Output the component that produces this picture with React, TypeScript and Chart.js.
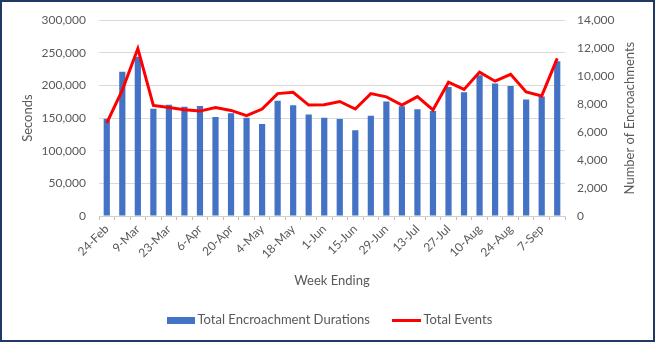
import React, { useEffect, useRef } from 'react';
import { Chart, registerables } from 'chart.js';
Chart.register(...registerables);

const weeks = ['24-Feb', '2-Mar', '9-Mar', '16-Mar', '23-Mar', '30-Mar', '6-Apr', '13-Apr', '20-Apr', '27-Apr', '4-May', '11-May', '18-May', '25-May', '1-Jun', '8-Jun', '15-Jun', '22-Jun', '29-Jun', '6-Jul', '13-Jul', '20-Jul', '27-Jul', '3-Aug', '10-Aug', '17-Aug', '24-Aug', '31-Aug', '7-Sep', '14-Sep'];

const durations = [149000, 221000, 244000, 164500, 170500, 167500, 168500, 151500, 157500, 150500, 141000, 176500, 169500, 155500, 150500, 148500, 131500, 153500, 175500, 168000, 163500, 161000, 197500, 189500, 215500, 203000, 199000, 178500, 183000, 237000];

const events = [6650, 9000, 11970, 7900, 7750, 7600, 7500, 7750, 7550, 7170, 7650, 8750, 8850, 7930, 7960, 8190, 7650, 8750, 8520, 7930, 8540, 7580, 9570, 9050, 10290, 9640, 10130, 8870, 8590, 11270];

const FONT = 'Lato, "Open Sans", sans-serif';
const TXT = '#595959';
const BLUE = '#4472C4';
const RED = '#FF0000';
const RIGHT_TITLE = 'Number of Encroachments';

function swatch(w: number, h: number, color: string) {
  const c = document.createElement('canvas');
  c.width = w;
  c.height = h;
  const g = c.getContext('2d')!;
  g.fillStyle = color;
  g.fillRect(0, 0, w, h);
  return c;
}

const adjustPlugin = {
  id: 'adjust',
  afterLayout(chart: any) {
    const lg = chart.legend;
    if (!lg) return;
    const pad = lg.options.labels.padding;
    lg.left = 171 - pad;
    const h = lg.height;
    lg.top = 320 - pad - 6.5;
    lg.bottom = lg.top + h;
  },
  afterDraw(chart: any) {
    const { ctx, chartArea } = chart;
    ctx.save();
    ctx.translate(630, (chartArea.top + chartArea.bottom) / 2);
    ctx.rotate(-Math.PI / 2);
    ctx.fillStyle = TXT;
    ctx.font = `13px ${FONT}`;
    ctx.textAlign = 'center';
    ctx.textBaseline = 'middle';
    ctx.fillText(RIGHT_TITLE, 0, 0);
    ctx.restore();
  },
};

export default function App() {
  const ref = useRef<HTMLCanvasElement | null>(null);
  useEffect(() => {
    if (!ref.current) return;
    const barSwatch = swatch(28, 7, BLUE);
    const lineSwatch = swatch(29, 3, RED);
    const chart = new Chart(ref.current, {
      type: 'bar',
      data: {
        labels: weeks,
        datasets: [
          {
            type: 'bar',
            label: 'Total Encroachment Durations',
            data: durations,
            backgroundColor: BLUE,
            borderWidth: 0,
            barPercentage: 0.4,
            categoryPercentage: 1,
            yAxisID: 'y',
            order: 2,
          },
          {
            type: 'line',
            label: 'Total Events',
            data: events,
            borderColor: RED,
            backgroundColor: RED,
            borderWidth: 3,
            pointRadius: 0,
            tension: 0,
            yAxisID: 'y1',
            order: 1,
          },
        ] as any,
      },
      plugins: [adjustPlugin],
      options: {
        animation: false,
        responsive: false,
        maintainAspectRatio: false,
        layout: { padding: { top: 12, bottom: 0, left: 0, right: 0 } },
        plugins: {
          tooltip: { enabled: false },
          legend: {
            position: 'bottom',
            align: 'start',
            maxHeight: 40,
            labels: {
              usePointStyle: true,
              pointStyleWidth: 20,
              boxHeight: 7,
              padding: 27,
              color: TXT,
              font: { family: FONT, size: 13 },
              generateLabels: (c: any) =>
                c.data.datasets.map((ds: any, i: number) => ({
                  text: ds.label,
                  datasetIndex: i,
                  fillStyle: i === 0 ? BLUE : RED,
                  strokeStyle: i === 0 ? BLUE : RED,
                  lineWidth: 0,
                  pointStyle: i === 0 ? barSwatch : lineSwatch,
                  fontColor: TXT,
                  hidden: false,
                })),
            },
          },
        },
        scales: {
          x: {
            offset: true,
            grid: {
              display: true,
              drawOnChartArea: false,
              drawTicks: true,
              tickLength: 4,
              color: '#bfbfbf',
              offset: true,
            },
            border: { display: true, color: '#d0d0d0' },
            ticks: {
              autoSkip: false,
              minRotation: 45,
              maxRotation: 45,
              padding: 2,
              color: TXT,
              font: { family: FONT, size: 12 },
              callback: (_v: any, i: number) => (i % 2 === 0 ? weeks[i] : ''),
            },
            title: {
              display: true,
              text: 'Week Ending',
              color: TXT,
              font: { family: FONT, size: 13 },
              padding: { top: 0, bottom: 25 },
            },
            afterFit: (s: any) => {
              s.height = 98;
            },
          },
          y: {
            position: 'left',
            min: 0,
            max: 300000,
            grid: { color: '#d9d9d9', drawTicks: false },
            border: { display: false },
            ticks: {
              stepSize: 50000,
              padding: 13,
              color: TXT,
              font: { family: FONT, size: 12 },
              callback: (v: any) => Number(v).toLocaleString('en-US'),
            },
            title: {
              display: true,
              text: 'Seconds',
              color: TXT,
              font: { family: FONT, size: 13 },
              padding: { top: 20, bottom: 0 },
            },
            afterFit: (s: any) => {
              s.width = 99;
            },
          },
          y1: {
            position: 'right',
            min: 0,
            max: 14000,
            grid: { display: false, drawTicks: false },
            border: { display: false },
            ticks: {
              stepSize: 2000,
              padding: 12,
              color: TXT,
              font: { family: FONT, size: 12 },
              callback: (v: any) => Number(v).toLocaleString('en-US'),
            },
            title: { display: false },
            afterFit: (s: any) => {
              s.width = 91;
            },
          },
        },
      } as any,
    });
    return () => chart.destroy();
  }, []);

  return (
    <div style={{ position: 'absolute', left: 0, top: 0, width: 656, height: 354, background: '#fff' }}>
      <canvas ref={ref} width={656} height={354} style={{ position: 'absolute', left: 0, top: 0, width: 656, height: 354 }} />
      <div
        style={{
          position: 'absolute',
          left: 0,
          top: 0,
          width: 655,
          height: 342,
          border: '2px solid #1f3864',
          boxSizing: 'border-box',
          pointerEvents: 'none',
        }}
      />
    </div>
  );
}
